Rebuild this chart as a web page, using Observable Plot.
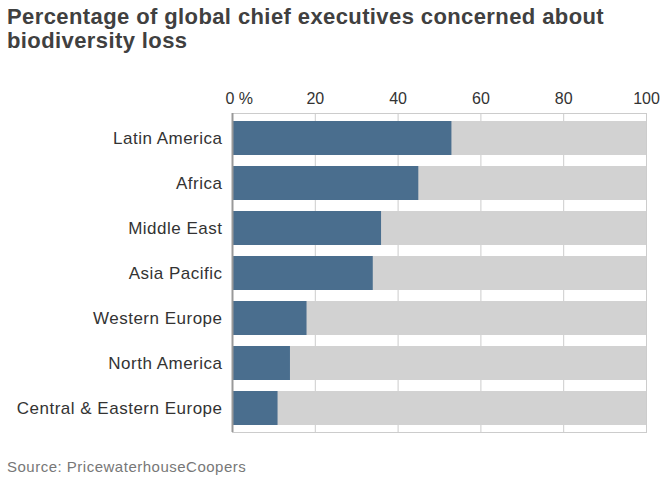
<!DOCTYPE html>
<html>
<head>
<meta charset="utf-8">
<script src="https://cdn.jsdelivr.net/npm/d3@7"></script>
<script src="https://cdn.jsdelivr.net/npm/@observablehq/plot@0.6"></script>
<style>
  html, body { margin: 0; padding: 0; background: #fff; }
  body { width: 660px; height: 486px; overflow: hidden; font-family: "Liberation Sans", Arial, sans-serif; }
  #title { box-sizing: border-box; height: 60px; padding: 5px 0 0 7px; font-size: 22px; letter-spacing: 0.4px; font-weight: bold; line-height: 24px; color: #404040; }
  #chart svg { display: block; }
  #source { padding: 0 0 0 7px; font-size: 15px; letter-spacing: 0.5px; color: #777; line-height: 17px; }
</style>
</head>
<body>
<div id="title">Percentage of global chief executives concerned about<br>biodiversity loss</div>
<div id="chart"></div>
<div id="source">Source: PricewaterhouseCoopers</div>
<script>
const regions = ["Latin America", "Africa", "Middle East", "Asia Pacific", "Western Europe", "North America", "Central & Eastern Europe"];
const percentages = [53, 45, 36, 34, 18, 14, 11];
const total = 100;
const xTicks = [0, 20, 40, 60, 80, 100];

const data = regions.map((r, i) => ({region: r, value: percentages[i], total}));

const plot = Plot.plot({
  width: 660,
  height: 398,
  marginTop: 53,
  marginBottom: 26,
  marginLeft: 232,
  marginRight: 14,
  style: {fontFamily: "Liberation Sans, Arial, sans-serif", color: "#333", background: "#fff"},
  x: {domain: [0, 100], ticks: xTicks},
  y: {domain: regions, paddingInner: 0.25, paddingOuter: 0.125},
  marks: [
    Plot.gridX(xTicks, {stroke: "#cccccc", strokeOpacity: 1, strokeWidth: 1}),
    Plot.frame({stroke: "#cccccc", strokeWidth: 1}),
    Plot.barX(data, {y: "region", x1: 0, x2: "total", fill: "#d2d2d2"}),
    Plot.barX(data, {y: "region", x1: 0, x2: "value", fill: "#4a6e8e"}),
    Plot.ruleX([0], {stroke: "#999999", strokeWidth: 2}),
    Plot.axisX(xTicks, {anchor: "top", tickSize: 0, tickPadding: 10, fontSize: 16, fill: "#333", label: null,
      tickFormat: d => d === 0 ? "0 %" : String(d)}),
    Plot.axisY({tickSize: 0, tickPadding: 10, fontSize: 17, fill: "#333", label: null})
  ]
});
document.getElementById("chart").appendChild(plot);
// letter spacing on the region labels, to match the wider face of the original
d3.select(plot).selectAll("[aria-label='y-axis tick label'] text").style("letter-spacing", "0.5px");
// left-align the "0 %" label so the digit sits on the zero line
d3.select(plot).selectAll("text").filter(function() { return this.textContent === "0 %"; })
  .attr("text-anchor", "start").attr("dx", -7);
</script>
</body>
</html>
